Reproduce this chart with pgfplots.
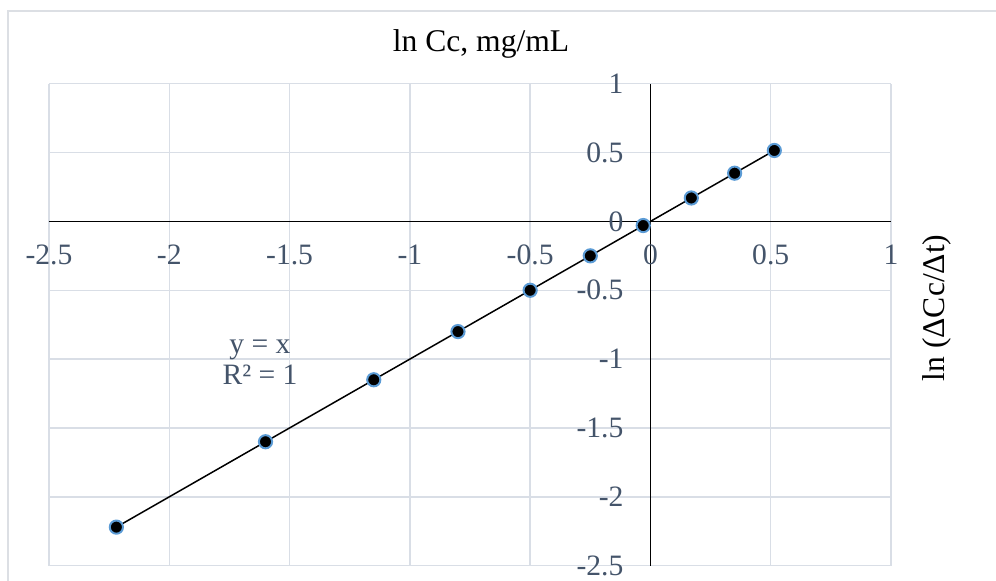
\documentclass[border=0pt]{standalone}
\usepackage{pgfplots}
\pgfplotsset{compat=1.18}
\usepackage{fontspec}
\setmainfont{Liberation Serif}

\definecolor{gridc}{HTML}{D9DEE6}
\definecolor{tickc}{HTML}{44546A}
\definecolor{markc}{HTML}{5B9BD5}
\definecolor{framec}{HTML}{DCDFE4}

\begin{document}
\begin{tikzpicture}
  % fixed page size
  \useasboundingbox (0pt,0pt) rectangle (498pt,290.5pt);
  % chart area border (left and top edges)
  \draw[framec, line width=0.6pt] (4pt,0pt) -- (4pt,285pt) -- (498pt,285pt);

  \begin{axis}[
    at={(24.5pt,7.65pt)}, anchor=south west,
    scale only axis, width=421pt, height=241pt,
    xmin=-2.5, xmax=1, ymin=-2.5, ymax=1,
    axis lines=middle,
    axis line style={-, black, line width=0.6pt},
    every inner x axis line/.append style={-},
    every inner y axis line/.append style={-},
    hide obscured x ticks=false,
    hide obscured y ticks=false,
    xtick={-2.5,-2,-1.5,-1,-0.5,0,0.5,1},
    ytick={-2.5,-2,-1.5,-1,-0.5,0,0.5,1},
    xticklabels={-2.5,-2,-1.5,-1,-0.5,0,0.5,1},
    yticklabels={-2.5,-2,-1.5,-1,-0.5,0,0.5,1},
    major tick length=0pt,
    grid=major,
    grid style={gridc, line width=0.75pt},
    xticklabel style={font=\fontsize{14.8}{17}\selectfont, text=tickc, inner sep=0pt, anchor=center, yshift=-16.9pt},
    yticklabel style={font=\fontsize{14.8}{17}\selectfont, text=tickc, inner sep=0pt, anchor=east, xshift=-13.3pt},
    clip=false,
  ]
    % linear trendline
    \addplot[black, line width=0.75pt, no marks] coordinates {(-2.22,-2.22) (0.515,0.515)};
    % measured points
    \addplot[only marks, mark=*, mark size=3.3pt,
             mark options={fill=black, draw=markc, line width=1pt}]
      coordinates {
        (-2.22,-2.22) (-1.60,-1.60) (-1.15,-1.15) (-0.80,-0.80) (-0.50,-0.50)
        (-0.25,-0.25) (-0.03,-0.03) (0.17,0.17) (0.35,0.35) (0.515,0.515)
      };
  \end{axis}

  % chart title and y-axis label
  \node[font=\fontsize{15.8}{18}\selectfont, inner sep=0pt] at (240.5pt,268.5pt) {ln Cc, mg/mL};
  \node[font=\fontsize{15.8}{18}\selectfont, inner sep=0pt, rotate=90] at (468.5pt,136.5pt) {ln (ΔCc/Δt)};
  % trendline equation
  \node[font=\fontsize{14.8}{15.5}\selectfont, text=tickc, align=center, inner sep=0pt] at (130pt,109.5pt) {y = x\\R² = 1};
\end{tikzpicture}
\end{document}
